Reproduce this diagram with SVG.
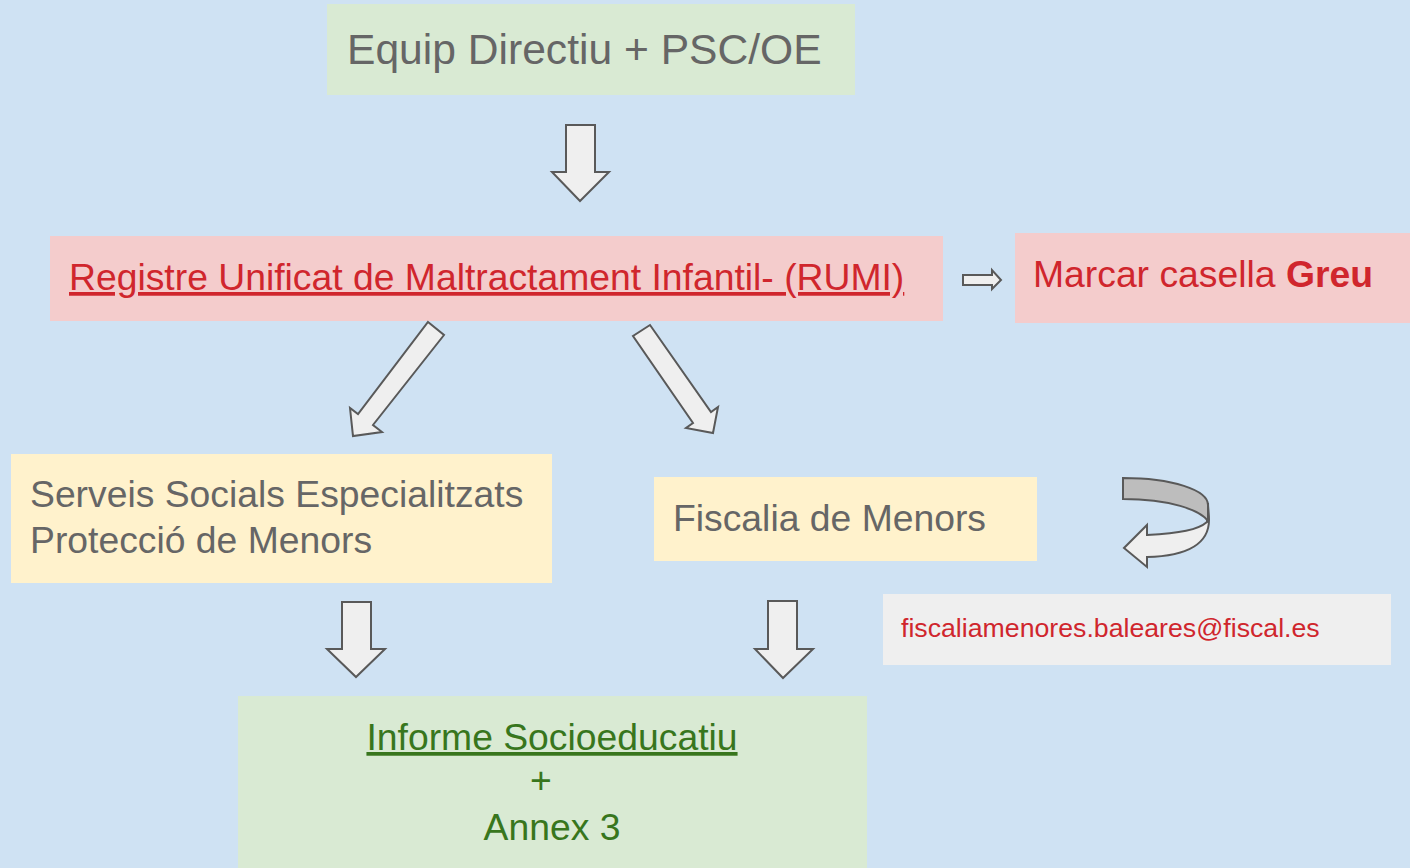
<svg xmlns="http://www.w3.org/2000/svg" width="1410" height="868" viewBox="0 0 1410 868">
<style>
text{font-family:"Liberation Sans",Arial,sans-serif;font-size:37.3px}
.g{fill:#666666}
.r{fill:#d0262d}
.gr{fill:#38761d}
.arr{fill:#efefef;stroke:#595959;stroke-width:2;stroke-linejoin:miter}
</style>
<rect x="0" y="0" width="1410" height="868" fill="#cfe2f3"/>
<g id="equip">
<rect x="327" y="4" width="528" height="91" fill="#d9ead3"/>
<text x="347" y="64" class="g" style="font-size:42.6px">Equip Directiu + PSC/OE</text>
</g>
<g id="rumi">
<rect x="50" y="236" width="893" height="85" fill="#f4cccc"/>
<text x="69" y="290" class="r" text-decoration="underline">Registre Unificat de Maltractament Infantil- (RUMI)</text>
</g>
<g id="greu">
<rect x="1015" y="233" width="395" height="90" fill="#f4cccc"/>
<text x="1033" y="287" class="r">Marcar casella <tspan font-weight="bold">Greu</tspan></text>
</g>
<g id="serveis">
<rect x="11" y="454" width="541" height="129" fill="#fff2cc"/>
<text x="30" y="507" class="g">Serveis Socials Especialitzats</text>
<text x="30" y="553" class="g">Protecció de Menors</text>
</g>
<g id="fiscalia">
<rect x="654" y="477" width="383" height="84" fill="#fff2cc"/>
<text x="673" y="531" class="g">Fiscalia de Menors</text>
</g>
<g id="email">
<rect x="883" y="594" width="508" height="71" fill="#efefef"/>
<text x="901" y="637" class="r" style="font-size:26.7px">fiscaliamenores.baleares@fiscal.es</text>
</g>
<g id="informe">
<rect x="238" y="696" width="629" height="172" fill="#d9ead3"/>
<text x="552" y="750" class="gr" text-anchor="middle" text-decoration="underline">Informe Socioeducatiu</text>
<text x="541" y="793" class="gr" text-anchor="middle">+</text>
<text x="552" y="840" class="gr" text-anchor="middle">Annex 3</text>
</g>
<g id="connectors">
<polygon class="arr" points="566,125 595,125 595,172 609,172 580,201 552,172 566,172"/>
<polygon class="arr" points="428,322 444,335 373,425 382,432 353,436 350,408 358,414"/>
<polygon class="arr" points="650,325 711,412 718,407 713,433 686,428 693,423 633,336"/>
<polygon class="arr" points="963,275 992,275 992,270 1001,280 992,289 992,285 963,285"/>
<polygon class="arr" points="342,602 371,602 371,649 385,649 356,677 327,649 342,649"/>
<polygon class="arr" points="768,601 797,601 797,649 813,649 783,678 755,649 768,649"/>
<path class="arr" d="M1207,522 C1198,530 1180,533 1147,535 L1147,525 L1124,548 L1147,567 L1147,557 C1190,556 1209,542 1209,520 C1209,513 1208,508 1208,503 Z"/>
<path class="arr" style="fill:#bdbdbd" d="M1123,478 C1172,478 1208,490 1208,505 L1208,521 C1200,510 1170,499 1123,499 Z"/>
</g>
</svg>
